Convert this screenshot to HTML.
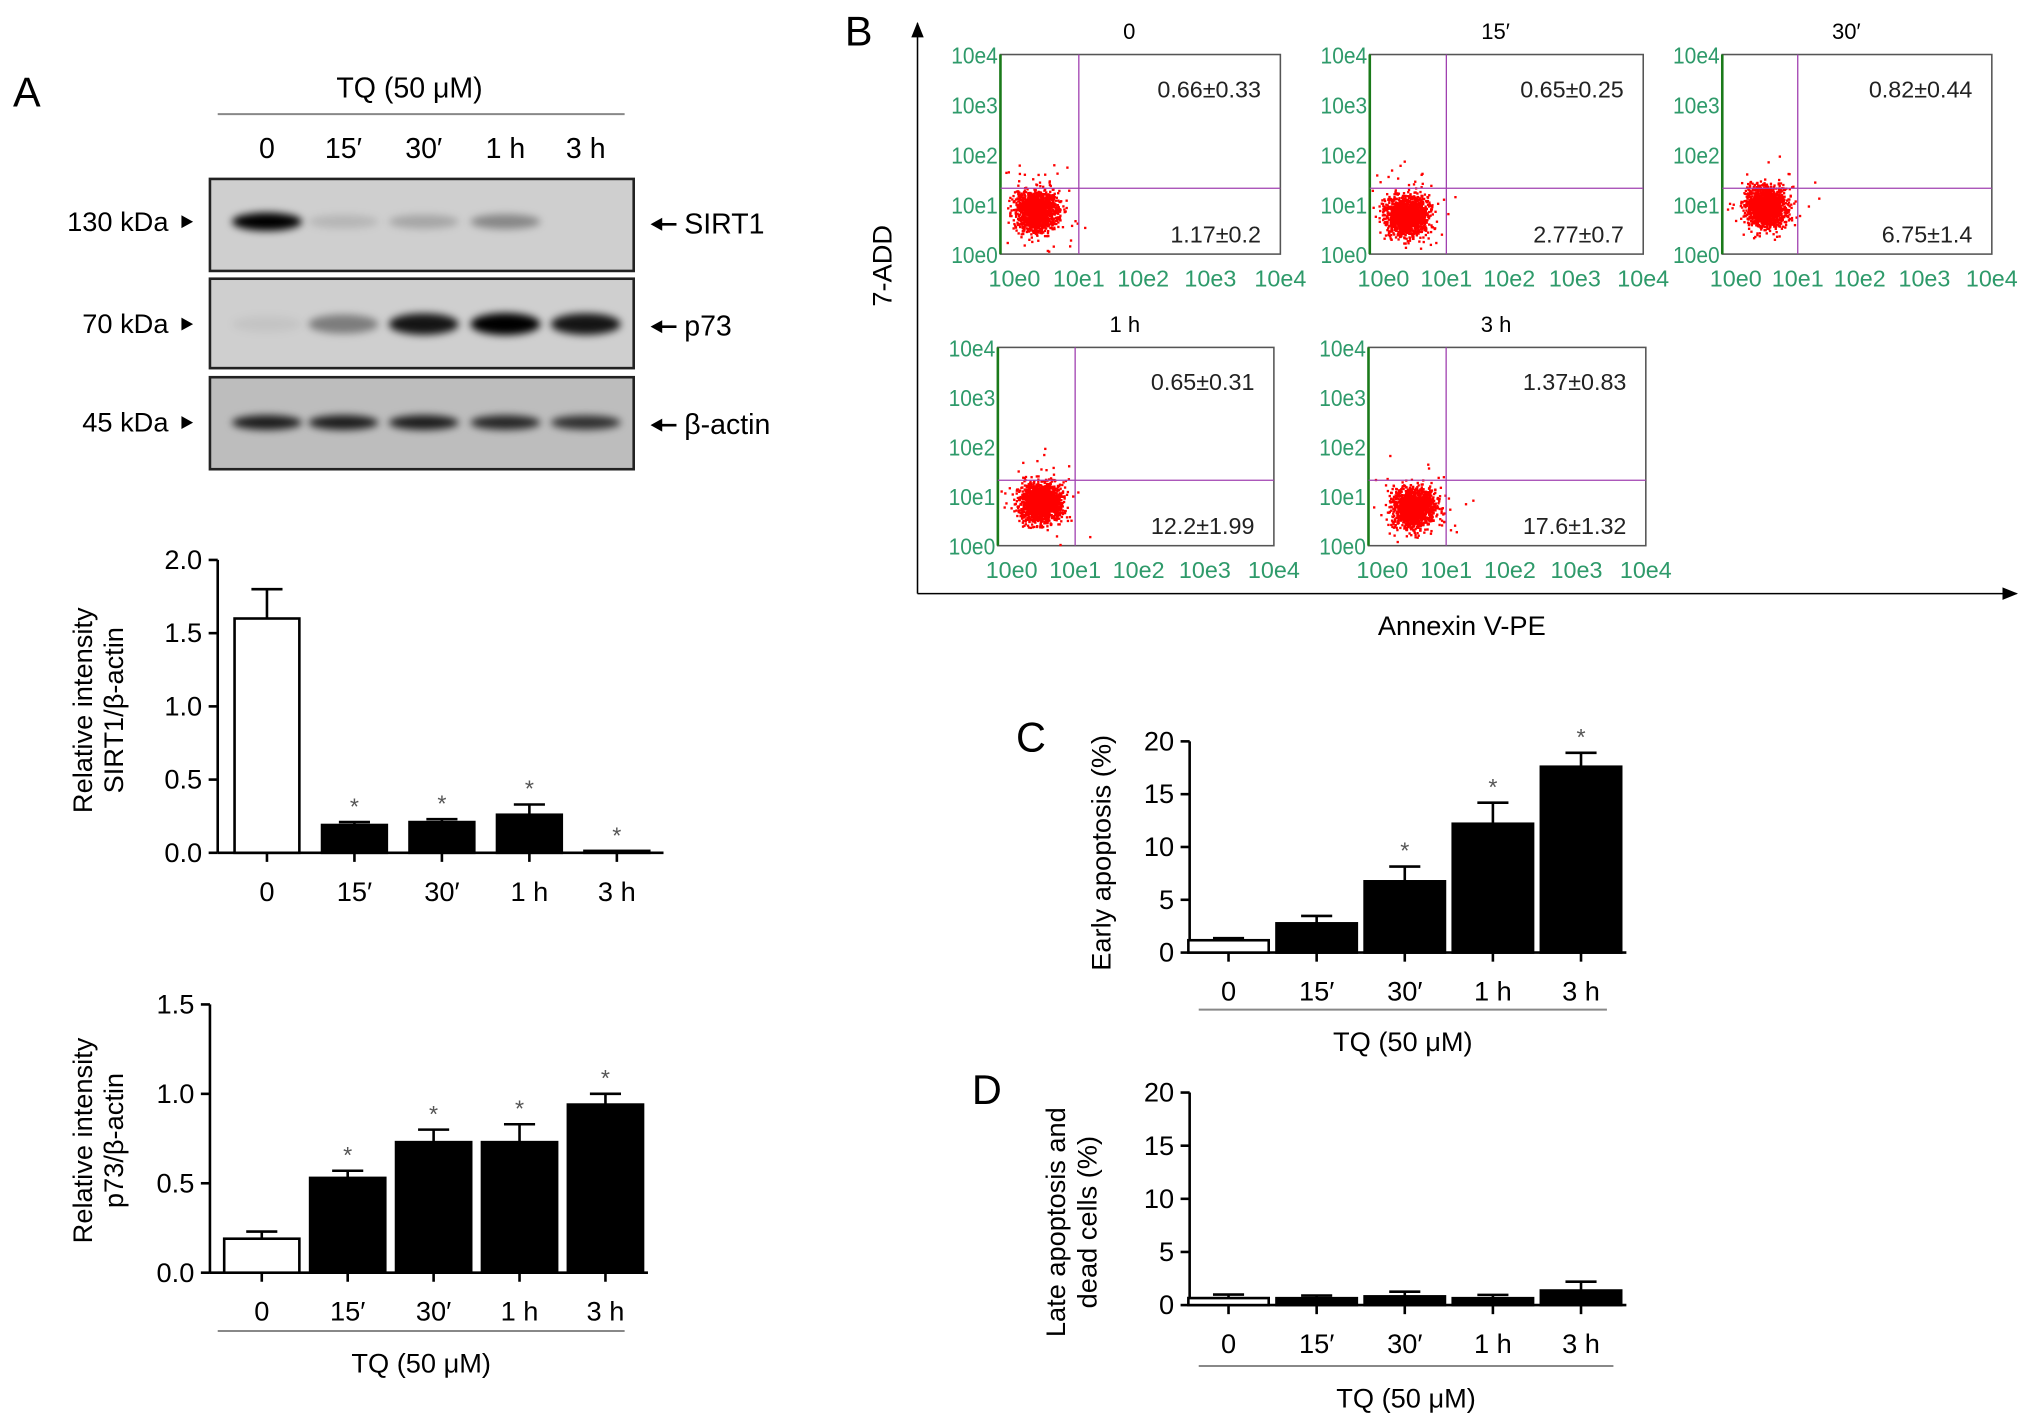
<!DOCTYPE html>
<html><head><meta charset="utf-8"><style>
html,body{margin:0;padding:0;background:#fff}
svg{display:block}
text{font-family:"Liberation Sans",sans-serif}
</style></head><body>
<svg id="fig" width="2032" height="1427" viewBox="0 0 1568 1101" xmlns="http://www.w3.org/2000/svg">
<defs>
<filter id="blur" x="-20%" y="-100%" width="140%" height="300%"><feGaussianBlur stdDeviation="3"/></filter>
<marker id="arr" markerWidth="10" markerHeight="10" refX="9" refY="5" orient="auto"><path d="M0,1 L10,5 L0,9 z" fill="#000"/></marker>
</defs>
<text x="10" y="82" font-size="32">A</text>
<text x="316" y="75" font-size="22" text-anchor="middle">TQ (50 μM)</text>
<line x1="168" y1="88" x2="482" y2="88" stroke="#888" stroke-width="1.5"/>
<g id="laneLabels" font-size="22" text-anchor="middle"></g>
<g id="blots"></g>
<g id="chartSirt"></g>
<g id="chartP73"></g>
<text x="652" y="35" font-size="32">B</text>
<line x1="708" y1="458" x2="708" y2="18" stroke="#000" stroke-width="1.2" marker-end="url(#arr)"/>
<line x1="708" y1="458" x2="1556" y2="458" stroke="#000" stroke-width="1.2" marker-end="url(#arr)"/>
<text transform="translate(688,205) rotate(-90)" font-size="21" text-anchor="middle">7-ADD</text>
<text x="1128" y="490" font-size="21" text-anchor="middle">Annexin V-PE</text>
<g id="flow"></g>
<text x="784" y="580" font-size="32">C</text>
<text x="750" y="852" font-size="32">D</text>
<g id="chartC"></g>
<g id="chartD"></g>
</svg>
<script>
const NS="http://www.w3.org/2000/svg";
const categories=["0","15′","30′","1 h","3 h"];
const sirtValues=[1.6,0.19,0.21,0.26,0.01];
const sirtErrors=[0.2,0.02,0.02,0.07,0.0];
const sirtStars=[false,true,true,true,true];
const sirtTicks=["0.0","0.5","1.0","1.5","2.0"];
const p73Values=[0.19,0.53,0.73,0.73,0.94];
const p73Errors=[0.04,0.04,0.07,0.1,0.06];
const p73Stars=[false,true,true,true,true];
const p73Ticks=["0.0","0.5","1.0","1.5"];
const earlyValues=[1.17,2.77,6.75,12.2,17.6];
const earlyErrors=[0.2,0.7,1.4,1.99,1.32];
const earlyStars=[false,false,true,true,true];
const lateValues=[0.66,0.65,0.82,0.65,1.37];
const lateErrors=[0.33,0.25,0.44,0.31,0.83];
const lateStars=[false,false,false,false,false];
const pctTicks=["0","5","10","15","20"];
const sirtBand=[1.0,0.12,0.2,0.35,0.0];
const p73Band=[0.05,0.4,0.9,1.0,0.9];
const actinBand=[0.85,0.85,0.85,0.8,0.75];
const flowUpper=["0.66±0.33","0.65±0.25","0.82±0.44","0.65±0.31","1.37±0.83"];
const flowLower=["1.17±0.2","2.77±0.7","6.75±1.4","12.2±1.99","17.6±1.32"];
const flowTitles=["0","15′","30′","1 h","3 h"];
const flowLogTicks=["10e0","10e1","10e2","10e3","10e4"];
const clusterX=[0.9,0.95,1.15,1.1,1.15];
const clusterY=[1.0,0.97,1.03,1.0,0.97];

function el(tag,attrs,parent,txt){const e=document.createElementNS(NS,tag);for(const k in attrs)e.setAttribute(k,attrs[k]);if(txt!==undefined)e.textContent=txt;parent.appendChild(e);return e;}

const lanes=document.getElementById('laneLabels');
const laneX=[206,265,327,390,452];
categories.forEach((c,i)=>{const t=el('text',{x:laneX[i],y:122},lanes,c);

});

const blots=document.getElementById('blots');
const blotRows=[{y:138,h:71,band:sirtBand,name:'SIRT1',kda:'130 kDa',by:171,bh:10},
{y:215,h:69,band:p73Band,name:'p73',kda:'70 kDa',by:250,bh:13},
{y:291,h:71,band:actinBand,name:'β-actin',kda:'45 kDa',by:326,bh:8}];
blotRows.forEach((r,ri)=>{
 const g=el('g',{},blots);
 
 
 el('rect',{x:162,y:r.y,width:327,height:r.h,fill:ri===2?'#bdbdbd':'#cfcfcf',stroke:'#222','stroke-width':2},g);
 r.band.forEach((v,i)=>{ if(v<=0)return;
  const b=el('ellipse',{cx:laneX[i],cy:r.by,rx:27,ry:r.bh/2+v*2,fill:'#000','fill-opacity':Math.min(1,v),filter:'url(#blur)'},g);
  
  });
 const k=el('text',{x:130,y:r.by+7,'font-size':21,'text-anchor':'end'},g,r.kda);
 
 
 el('path',{d:`M140,${r.by-5} L149,${r.by} L140,${r.by+5} z`,fill:'#000'},g);
 el('line',{x1:522,y1:r.by+2,x2:504,y2:r.by+2,stroke:'#000','stroke-width':2},g);
 el('path',{d:`M502,${r.by+2} L511,${r.by-3} L511,${r.by+7} z`,fill:'#000'},g);
 const n=el('text',{x:528,y:r.by+9,'font-size':22},g,r.name);
 
 
});

function barChart(gid,o){
 const g=document.getElementById(gid);
 const sy=v=>o.y0-(v/o.max)*(o.y0-o.yTop);
 const sx=i=>o.c0+i*o.step;
 el('line',{x1:o.ax,y1:o.yTop,x2:o.ax,y2:o.y0,stroke:'#000','stroke-width':2},g);
 el('line',{x1:o.ax,y1:o.y0,x2:o.xEnd,y2:o.y0,stroke:'#000','stroke-width':2},g);
 o.ticks.forEach((t,i)=>{const v=i*o.max/(o.ticks.length-1);const y=sy(v);
  el('line',{x1:o.ax-7,y1:y,x2:o.ax,y2:y,stroke:'#000','stroke-width':2},g);
  const tt=el('text',{x:o.ax-12,y:y+7,'font-size':21,'text-anchor':'end'},g,t);
  
  });
 o.vals.forEach((v,i)=>{const x=sx(i);
  el('line',{x1:x,y1:o.y0,x2:x,y2:o.y0+7,stroke:'#000','stroke-width':2},g);
  const top=sy(v+o.err[i]);
  if(o.err[i]>0){el('line',{x1:x,y1:sy(v),x2:x,y2:top,stroke:'#000','stroke-width':2},g);
   el('line',{x1:x-12,y1:top,x2:x+12,y2:top,stroke:'#000','stroke-width':2},g);}
  const h=Math.max(1.5,o.y0-sy(v));
  const b=el('rect',{x:x-o.bw/2,y:o.y0-h,width:o.bw,height:h,fill:i===0?'#fff':'#000',stroke:'#000','stroke-width':2},g);
  
  
  if(o.stars[i]){const s=el('text',{x:x,y:top-6,'font-size':18,'text-anchor':'middle',fill:'#555'},g,'*');
   
   }
  const l=el('text',{x:x,y:o.y0+37,'font-size':21,'text-anchor':'middle'},g,categories[i]);
  
  
 });
 o.titles.forEach((t,i)=>{const tt=el('text',{transform:`translate(${o.tx+i*24},${o.ty}) rotate(-90)`,'font-size':21,'text-anchor':'middle'},g,t);
  
  });
 if(o.tq){el('line',{x1:o.tq[0],y1:o.tq[2],x2:o.tq[1],y2:o.tq[2],stroke:'#888','stroke-width':1.5},g);
  const tq=el('text',{x:(o.tq[0]+o.tq[1])/2,y:o.tq[2]+32,'font-size':21,'text-anchor':'middle'},g,'TQ (50 μM)');
  
  }
}
barChart('chartSirt',{ax:168,y0:658,yTop:432,max:2,xEnd:512,c0:206,step:67.5,bw:50,vals:sirtValues,err:sirtErrors,stars:sirtStars,ticks:sirtTicks,titles:['Relative intensity','SIRT1/β-actin'],tx:71,ty:548});
barChart('chartP73',{ax:162,y0:982,yTop:775,max:1.5,xEnd:500,c0:202,step:66.3,bw:58,vals:p73Values,err:p73Errors,stars:p73Stars,ticks:p73Ticks,titles:['Relative intensity','p73/β-actin'],tx:71,ty:880,tq:[168,482,1027]});
barChart('chartC',{ax:918,y0:735,yTop:572,max:20,xEnd:1255,c0:948,step:68,bw:62,vals:earlyValues,err:earlyErrors,stars:earlyStars,ticks:pctTicks,titles:['Early apoptosis (%)'],tx:857,ty:658,tq:[925,1240,779]});
barChart('chartD',{ax:918,y0:1007,yTop:843,max:20,xEnd:1255,c0:948,step:68,bw:62,vals:lateValues,err:lateErrors,stars:lateStars,ticks:pctTicks,titles:['Late apoptosis and','dead cells (%)'],tx:822,ty:943,tq:[925,1245,1054]});

const flow=document.getElementById('flow');
const boxes=[[772,42,216,154],[1057,42,211,154],[1329,42,208,154],[770,268,213,153],[1056,268,214,153]];
let seed=12345;function rnd(){seed=(seed*1103515245+12345)%2147483648;return seed/2147483648;}
function gauss(){return (rnd()+rnd()+rnd()+rnd()-2)/1.15;}
boxes.forEach((b,p)=>{
 const [x,y,w,h]=b;const g=el('g',{},flow);
 
 
 el('rect',{x:x,y:y,width:w,height:h,fill:'#fff',stroke:'#555','stroke-width':1.2},g);
 el('line',{x1:x,y1:y,x2:x,y2:y+h,stroke:'#1a7a1a','stroke-width':2},g);
 const ttl=el('text',{x:x+w*0.46,y:y-12,'font-size':17,'text-anchor':'middle'},g,flowTitles[p]);
 
 
 flowLogTicks.forEach((t,i)=>{
  const yy=y+h-i*h/4;
  const ty=el('text',{x:x-2,y:yy+7,'font-size':18,'text-anchor':'end',fill:'#2e9a6a',textLength:36,lengthAdjust:'spacingAndGlyphs'},g,t);
  
  
  const fx=[0.05,0.28,0.51,0.75,1.0][i];
  const tx=el('text',{x:x+fx*w,y:y+h+25,'font-size':18,'text-anchor':'middle',fill:'#2e9a6a'},g,t);
  
  
 });
 const cx=x+w*0.14*clusterX[p], cy=y+h*0.78/clusterY[p];
 for(let k=0;k<1500;k++){
  let dx=gauss()*w*0.075, dy=gauss()*h*0.1;
  if(k%20===0){dx*=2.0;dy*=2.2;}
  const px=cx+dx, py=cy+dy;
  if(px<x+1||py>y+h-1||px>x+w-2||py<y+1)continue;
  const d=el('rect',{x:px,y:py,width:1.8,height:1.8,fill:'#f00'},g);
  
  
 }
 const qx=x+w*0.28, qy=y+h*0.67;
 el('line',{x1:qx,y1:y,x2:qx,y2:y+h,stroke:'#a040b0','stroke-width':1},g);
 el('line',{x1:x,y1:qy,x2:x+w,y2:qy,stroke:'#a040b0','stroke-width':1},g);
 const u=el('text',{x:x+w-15,y:y+33,'font-size':18,'text-anchor':'end',fill:'#222'},g,flowUpper[p]);
 
 
 const lo=el('text',{x:x+w-15,y:y+h-9,'font-size':18,'text-anchor':'end',fill:'#222'},g,flowLower[p]);
 
 
});
</script>
</body></html>
